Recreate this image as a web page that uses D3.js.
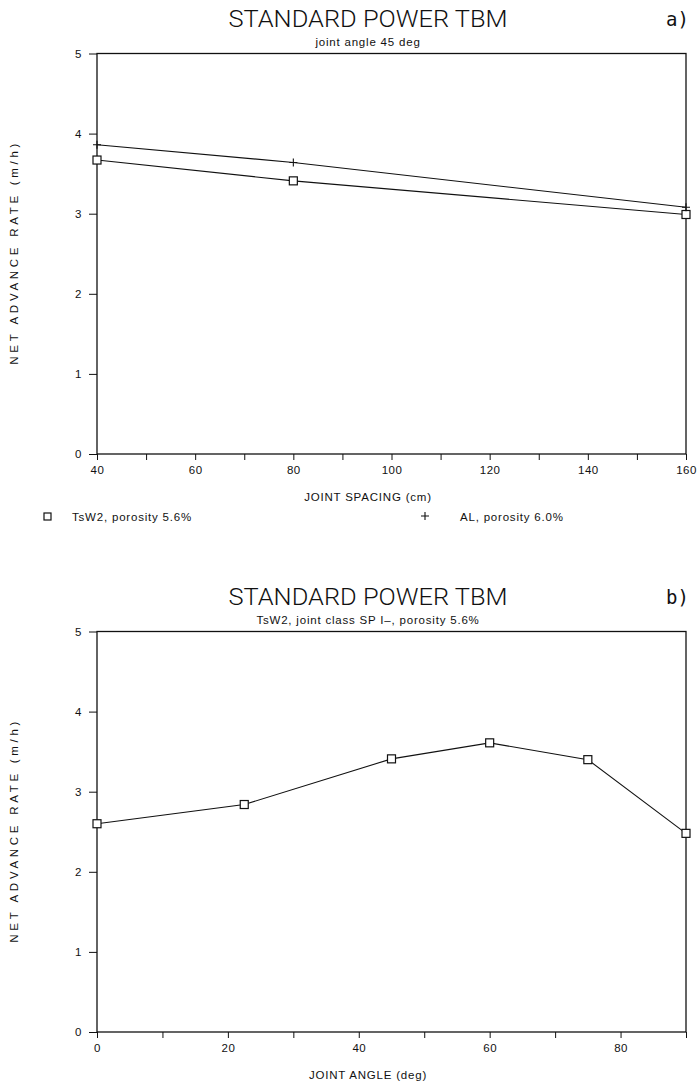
<!DOCTYPE html>
<html>
<head>
  <meta charset="utf-8">
  <title>Standard power TBM</title>
  <script src="https://cdn.jsdelivr.net/npm/d3@7"></script>
  <style>
    body { margin: 0; background: #fff; }
    svg text { font-family: "Liberation Sans", "DejaVu Sans", sans-serif; fill: #111; }
    .title { font-family: Roboto, "Liberation Sans", sans-serif !important; font-size: 23px; font-weight: 300; }
    .tag { font-family: "DejaVu Sans Mono", "Liberation Mono", monospace !important; font-size: 19px; }
    .small { font-size: 11.5px; letter-spacing: 0.8px; }
    .tick text { font-size: 11.5px; letter-spacing: 0.5px; }
  </style>
</head>
<body>
<div id="chart"></div>
<script>
  // panel a) joint spacing (cm) vs net advance rate (m/h), joint angle 45 deg
  var spacing = [40, 80, 160];
  var tsw2Spacing = [3.67, 3.41, 2.99];
  var alSpacing = [3.86, 3.64, 3.08];

  // panel b) joint angle (deg) vs net advance rate, TsW2
  var angle = [0, 22.5, 45, 60, 75, 90];
  var tsw2Angle = [2.60, 2.84, 3.41, 3.61, 3.40, 2.48];

  var yTicks = [0, 1, 2, 3, 4, 5];
  var xTicksA = [40, 60, 80, 100, 120, 140, 160];
  var xTicksB = [0, 20, 40, 60, 80];

  var svg = d3.select("#chart").append("svg")
      .attr("width", 700)
      .attr("height", 1089);

  var left = 97, right = 686, plotH = 400.5;

  function drawPanel(opt) {
    var g = svg.append("g").attr("transform", "translate(0," + opt.top + ")");

    var x = d3.scaleLinear().domain(opt.xDomain).range([left, right]);
    var y = d3.scaleLinear().domain([0, 5]).range([plotH, 0]);

    // frame
    g.append("rect")
      .attr("x", left).attr("y", 0)
      .attr("width", right - left).attr("height", plotH)
      .attr("fill", "none").attr("stroke", "#111").attr("stroke-width", 1.3);

    // x axis: ticks every 10, labels every 20
    var xAxis = d3.axisBottom(x)
      .tickValues(d3.range(opt.xDomain[0], opt.xDomain[1] + 1, 10))
      .tickSize(6)
      .tickPadding(6)
      .tickFormat(function(d) { return opt.xLabels.indexOf(d) >= 0 ? d : ""; });
    var gx = g.append("g").attr("transform", "translate(0," + plotH + ")").call(xAxis);
    gx.select(".domain").remove();
    gx.selectAll(".tick line").attr("stroke", "#111");

    var yAxis = d3.axisLeft(y).tickValues(yTicks).tickSize(8).tickPadding(7)
      .tickFormat(d3.format("d"));
    var gy = g.append("g").attr("transform", "translate(" + left + ",0)").call(yAxis);
    gy.select(".domain").remove();
    gy.selectAll(".tick line").attr("stroke", "#111");

    var line = d3.line()
      .x(function(d) { return x(d[0]); })
      .y(function(d) { return y(d[1]); });

    opt.series.forEach(function(s) {
      var pts = opt.xs.map(function(v, i) { return [v, s.values[i]]; });
      g.append("path")
        .datum(pts)
        .attr("d", line)
        .attr("fill", "none")
        .attr("stroke", "#111")
        .attr("stroke-width", 1.1);

      if (s.mark === "square") {
        g.selectAll(null).data(pts).enter().append("rect")
          .attr("x", function(d) { return x(d[0]) - 4; })
          .attr("y", function(d) { return y(d[1]) - 4; })
          .attr("width", 8).attr("height", 8)
          .attr("fill", "#fff").attr("stroke", "#111").attr("stroke-width", 1.2);
      } else {
        g.selectAll(null).data(pts).enter().append("path")
          .attr("d", function(d) {
            var cx = x(d[0]), cy = y(d[1]);
            return "M" + (cx - 4) + "," + cy + "H" + (cx + 4) + "M" + cx + "," + (cy - 4) + "V" + (cy + 4);
          })
          .attr("stroke", "#111").attr("stroke-width", 1.1);
      }
    });

    // titles
    g.append("text").attr("class", "title")
      .attr("x", 368).attr("y", -27)
      .attr("text-anchor", "middle")
      .attr("textLength", 279)
      .attr("lengthAdjust", "spacingAndGlyphs")
      .text("STANDARD POWER TBM");
    g.append("text").attr("class", "small")
      .attr("x", 368).attr("y", -8)
      .attr("text-anchor", "middle")
      .text(opt.subtitle);
    g.append("text").attr("class", "tag")
      .attr("x", 689).attr("y", -28)
      .attr("text-anchor", "end")
      .text(opt.tag);

    g.append("text").attr("class", "small")
      .attr("x", 368).attr("y", plotH + 47)
      .attr("text-anchor", "middle")
      .text(opt.xTitle);

    g.append("text").attr("class", "small")
      .attr("transform", "translate(18," + (plotH / 2) + ") rotate(-90)")
      .attr("text-anchor", "middle")
      .attr("textLength", 222)
      .text("NET ADVANCE RATE (m/h)");

    return g;
  }

  var ga = drawPanel({
    top: 53.5,
    xDomain: [40, 160],
    xLabels: xTicksA,
    xs: spacing,
    series: [
      { values: tsw2Spacing, mark: "square" },
      { values: alSpacing, mark: "plus" }
    ],
    subtitle: "joint angle 45 deg",
    tag: "a)",
    xTitle: "JOINT SPACING (cm)"
  });

  // legend under panel a)
  var legend = ga.append("g").attr("transform", "translate(0," + (plotH + 67) + ")");
  legend.append("rect")
    .attr("x", 44).attr("y", -8).attr("width", 7).attr("height", 7)
    .attr("fill", "#fff").attr("stroke", "#111").attr("stroke-width", 1.2);
  legend.append("text").attr("class", "small").attr("x", 72).attr("y", 0)
    .text("TsW2, porosity 5.6%");
  legend.append("path")
    .attr("d", "M421,-5H429M425,-9V-1")
    .attr("stroke", "#111").attr("stroke-width", 1.1);
  legend.append("text").attr("class", "small").attr("x", 460).attr("y", 0)
    .text("AL, porosity 6.0%");

  drawPanel({
    top: 631.5,
    xDomain: [0, 90],
    xLabels: xTicksB,
    xs: angle,
    series: [
      { values: tsw2Angle, mark: "square" }
    ],
    subtitle: "TsW2, joint class SP I\u2013, porosity 5.6%",
    tag: "b)",
    xTitle: "JOINT ANGLE (deg)"
  });
</script>
</body>
</html>
